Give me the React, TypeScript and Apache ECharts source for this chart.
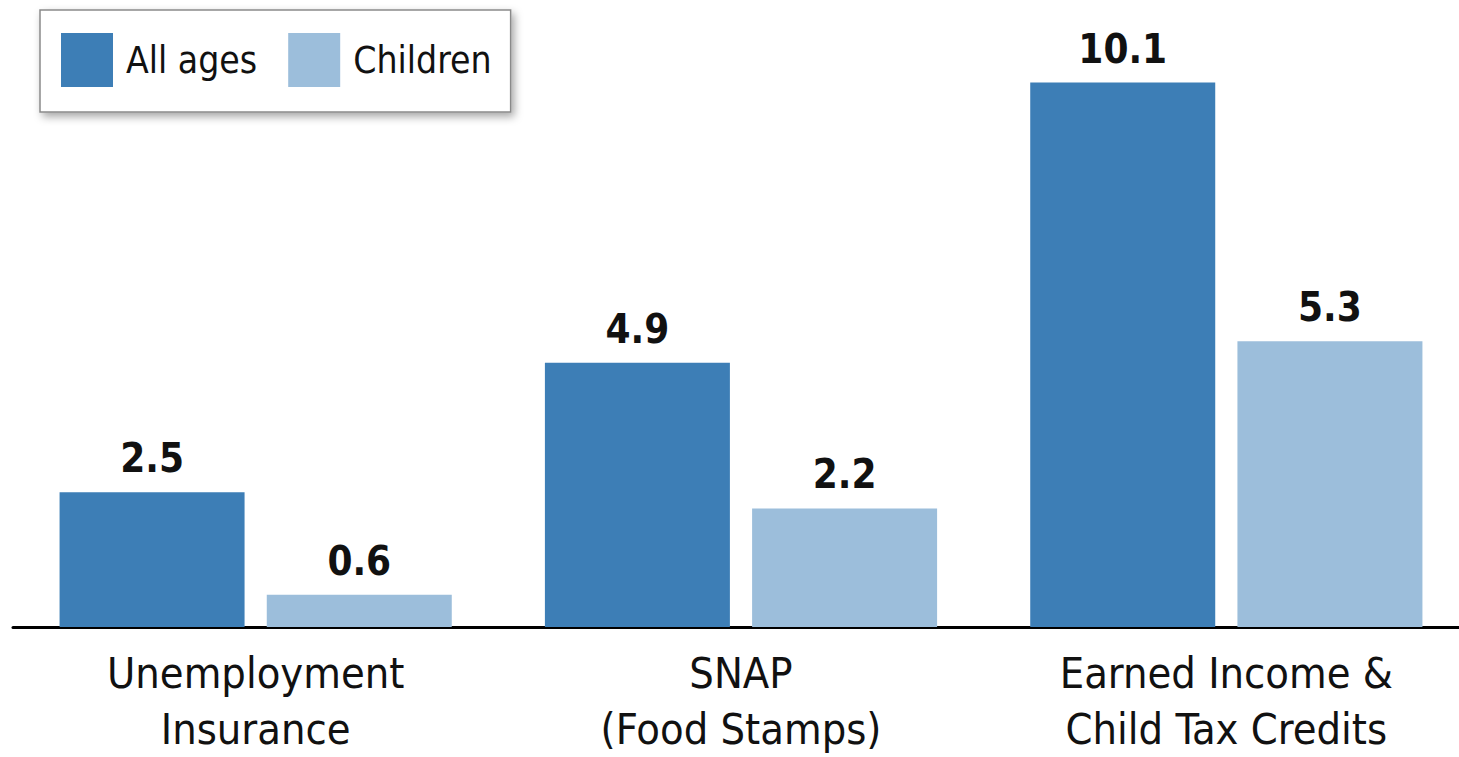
import React, { useEffect, useRef } from "react";
import * as echarts from "echarts";

const categories = ["Unemployment\nInsurance", "SNAP\n(Food Stamps)", "Earned Income &\nChild Tax Credits"];
const allAges = [2.5, 4.9, 10.1];
const children = [0.6, 2.2, 5.3];
const seriesNames = ["All ages", "Children"];

const FONT = "'Liberation Sans Narrow', 'DejaVu Sans Condensed', 'Noto Sans', sans-serif";

export default function App() {
  const ref = useRef<HTMLDivElement>(null);
  useEffect(() => {
    if (!ref.current) return;
    const chart = echarts.init(ref.current, null, { renderer: "svg" });
    const labelCfg = {
      show: true,
      position: "top",
      distance: 14,
      fontFamily: FONT,
      fontWeight: "bold",
      fontSize: 40,
      color: "#111",
      formatter: (p: any) => p.value.toFixed(1),
    };
    chart.setOption({
      animation: false,
      backgroundColor: "#ffffff",
      textStyle: { fontFamily: FONT },
      legend: {
        left: 40,
        top: 10,
        orient: "horizontal",
        padding: [23, 19, 25, 21],
        itemWidth: 52,
        itemHeight: 54,
        itemGap: 31,
        icon: "rect",
        backgroundColor: "#ffffff",
        borderColor: "#8a8a8a",
        borderWidth: 1.5,
        shadowBlur: 8,
        shadowColor: "rgba(0,0,0,0.35)",
        shadowOffsetX: 3,
        shadowOffsetY: 4,
        textStyle: { fontFamily: FONT, fontSize: 37, color: "#111", padding: [0, 0, 0, 8] },
        data: seriesNames,
      },
      grid: { left: 13, right: 3, top: 34, bottom: 128, containLabel: false },
      xAxis: {
        type: "category",
        data: categories,
        axisLine: { show: true, lineStyle: { color: "#000", width: 3 } },
        axisTick: { show: false },
        axisLabel: {
          fontFamily: FONT,
          fontSize: 43,
          lineHeight: 56,
          color: "#111",
          margin: 18,
          interval: 0,
        },
      },
      yAxis: {
        type: "value",
        min: 0,
        max: 11,
        show: false,
        splitLine: { show: false },
      },
      series: [
        {
          name: seriesNames[0],
          type: "bar",
          data: allAges,
          barWidth: 185,
          barGap: "12%",
          itemStyle: { color: "#3d7eb6" },
          label: labelCfg,
        },
        {
          name: seriesNames[1],
          type: "bar",
          data: children,
          barWidth: 185,
          barGap: "12%",
          itemStyle: { color: "#9cbedb" },
          label: labelCfg,
        },
      ],
    });
    return () => chart.dispose();
  }, []);
  return (
    <div style={{ position: "absolute", left: 0, top: 0, width: 1459, height: 757, overflow: "hidden" }}>
      <div ref={ref} style={{ width: 1472, height: 757 }} />
    </div>
  );
}
